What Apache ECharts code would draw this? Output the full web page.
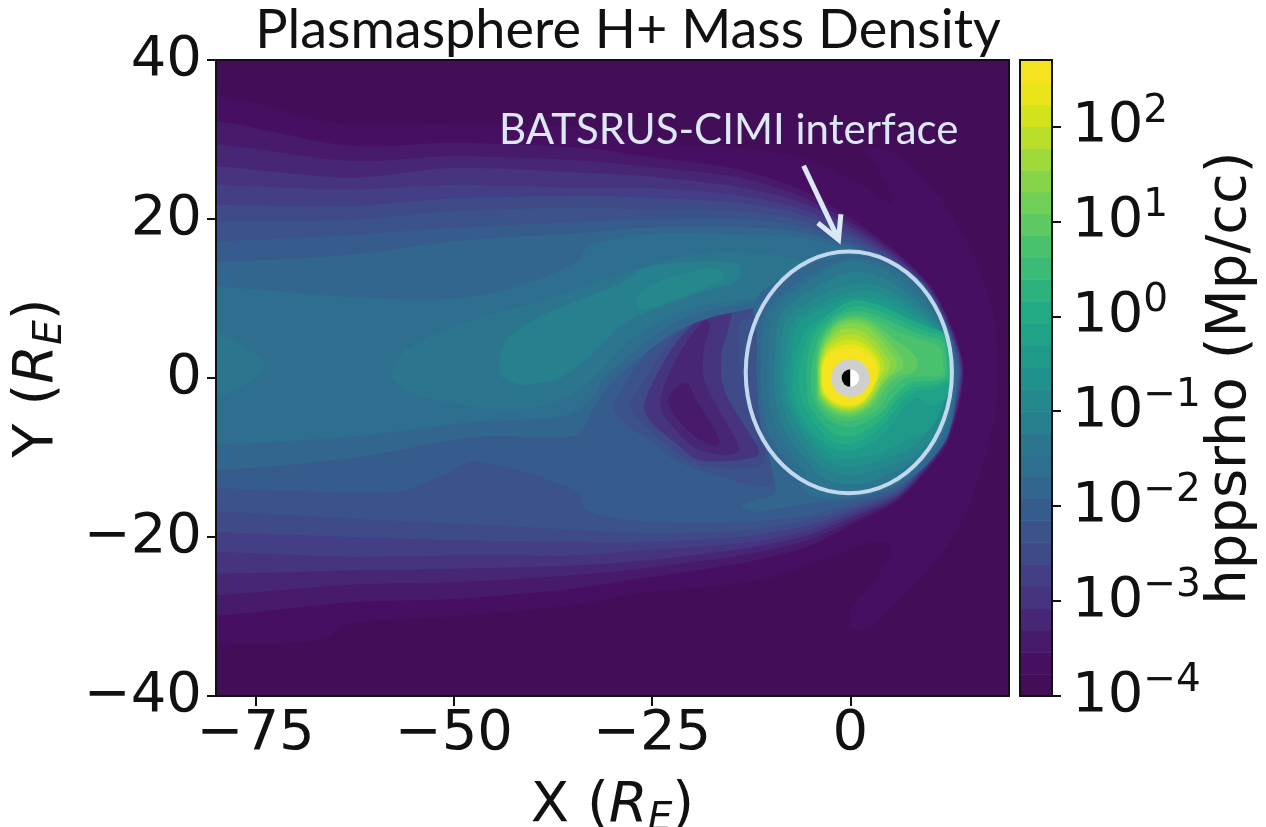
<!DOCTYPE html>
<html><head><meta charset="utf-8"><style>html,body{margin:0;padding:0;background:#fff}#c{width:1266px;height:827px}</style>
<script src="https://cdn.jsdelivr.net/npm/echarts@6/dist/echarts.min.js"></script></head><body><div id="c"></div>
<script>
const titleText='Plasmasphere H+ Mass Density';
const noteText='BATSRUS-CIMI interface';
const xTicks=[-75,-50,-25,0];
const yTicks=[-40,-20,0,20,40];
const cbTicks=[-4,-3,-2,-1,0,1,2];
// log10 density band edges of the colour bar
const cbLevels=[-4,-3.77,-3.54,-3.31,-3.08,-2.84,-2.61,-2.38,-2.15,-1.92,-1.69,-1.46,-1.23,-1,-0.77,-0.54,-0.31,-0.08,0.16,0.39,0.62,0.85,1.08,1.31,1.54,1.77,2,2.23,2.46,2.7];
const bandColors=['#420e57','#470f62','#481a6c','#482676','#463480','#433e85','#3f4a89','#3b528b','#365c8d','#32668e','#2e6e8e','#2b768e','#27808e','#24888d','#21918c','#1f998a','#1fa287','#23a983','#2db27d','#3bbb75','#4ac16d','#5ec962','#70cf57','#86d549','#9fda3a','#b8de29','#d2e21b','#e9e51a','#f6e31f'];
// filled contours, X,Y in Earth radii: outer magnetosphere and tail
const c0=[-95,50,35,50,35,-50,-95,-50];
const c1=[-90,35.6,-80,35.6,-67,32.5,-63,31.9,-50,31.9,-33,31.5,-24,29.5,-13.8,29,-5.3,27.5,1,24.5,5.2,22,5,23.4,3,27,1.8,28.7,4.8,28.7,7.3,27,11.5,22.4,15.7,15.2,18,8,18.7,0,17.8,-7,15.7,-14,13.6,-19,9.8,-24.2,6,-28,2.3,-31.5,0.1,-31.4,0.1,-29.2,3,-25.5,4.8,-22.5,4.8,-20.8,3,-20.6,-1.1,-22,-9.6,-25,-18,-26.3,-26.4,-27,-35,-28.6,-50,-30,-63,-30.9,-67,-33,-80,-33.6,-90,-33.6];
const c2=[-90,32.3,-80,32.3,-63,29.2,-50,29.6,-33,28.9,-26,27.9,-14,26.2,-5.4,23.3,3,18,9.8,12,13.1,5.7,14.3,0.6,12.4,-7.8,9.3,-12,6,-15.4,0.5,-18.3,-5.4,-21.2,-13.8,-23.3,-26.4,-25.2,-35,-26.5,-50,-27.8,-63,-28.2,-80,-29.9,-90,-29.9];
const c3=[-90,29.4,-80,29.4,-63,27.3,-50,27.9,-33,27.3,-26,26.6,-14,25.2,-5.4,22.5,3,17.6,9.7,11.9,13,5.6,14.2,0.6,12.3,-7.7,9.2,-11.9,5.9,-15.2,0.5,-17.9,-5.4,-20.4,-13.8,-22.3,-26.4,-24,-35,-24.8,-50,-25.7,-63,-26,-80,-27.3,-90,-27.3];
const c4=[-90,26.6,-80,26.6,-63,25.2,-50,26.4,-33,25.8,-26,25.4,-14,24,-5.4,21.8,3,17.2,9.6,11.8,12.9,5.6,14.1,0.6,12.2,-7.6,9.1,-11.8,5.9,-15,0.5,-17.4,-5.4,-19.8,-13.8,-21.5,-26.4,-23,-35,-23.6,-50,-24,-63,-24.2,-80,-24.6,-90,-24.6];
const c5=[-90,24.3,-80,24.3,-63,23.7,-50,24.3,-33,23.9,-26,23.9,-14,23,-5.4,21,3,16.8,9.5,11.7,12.8,5.5,14,0.6,12.1,-7.6,9,-11.7,5.8,-14.8,0.5,-17,-5.4,-19.2,-13.8,-20.8,-26.4,-21.7,-35,-22.3,-50,-22.3,-63,-22.5,-80,-21.9,-90,-21.9];
const c6=[-90,21.8,-80,21.8,-63,21.6,-50,22.6,-33,22.9,-26,22.7,-14,22,-5.4,20.3,3,16.4,9.4,11.6,12.7,5.5,13.9,0.6,12,-7.5,8.9,-11.6,5.8,-14.6,0.5,-16.6,-5.4,-18.6,-13.8,-20,-26.4,-20.6,-35,-20.6,-50,-20.4,-63,-20,-80,-19.4,-90,-19.4];
const c7=[-90,19.7,-80,19.7,-63,19.9,-50,21,-33,21.4,-26,21.2,-14,21,-5.4,19.6,3,16,9.3,11.5,12.6,5.5,13.8,0.6,11.9,-7.5,8.8,-11.5,5.7,-14.4,0.5,-16.2,-5.4,-17.9,-13.8,-19.2,-26.4,-19.5,-35,-19.1,-50,-18.3,-63,-17.7,-80,-16.8,-90,-16.8];
const c8=[-90,17.2,-80,17.2,-63,18,-50,18.9,-33,19.7,-26,19.9,-14,20,-5.4,18.9,3,15.6,9.2,11.4,12.5,5.4,13.6,0.6,11.8,-7.4,8.7,-11.4,5.6,-14.2,0.5,-15.8,-5.4,-17.3,-13.8,-18.1,-26.5,-18,-33.5,-16.5,-34.3,-14.3,-47,-10.5,-51.6,-12.3,-57,-14.3,-80,-13.9,-90,-13.9];
// low density cavity between tail and inner region
const cav7=[-29.8,-3.6,-28.2,-0.3,-24.8,4.3,-21.3,7.7,-17,9.6,-12.5,9.8,-11.6,8,-11.6,3,-11.4,-3,-10.8,-8,-9,-12.5,-11.2,-13.7,-16.3,-12.4,-22,-10.4,-24.8,-8.2,-28.5,-5.7];
const cav6=[-27.8,-3.6,-25.6,0.2,-23,4.3,-19.6,7.3,-15.8,9.4,-12.5,9.6,-12.5,8.1,-14.2,6.5,-14,2.2,-13,-2.4,-11.2,-6.6,-11,-10.7,-15,-11.4,-19.6,-10.7,-23,-8.6,-25.8,-6];
const cav5=[-26,-3.6,-24.8,-0.3,-21.7,4.8,-18.3,8,-15.1,8.9,-15.3,6.5,-16.3,2.7,-15.9,-1.5,-13.3,-6.1,-11.5,-9.5,-14,-10.3,-19.2,-10.3,-22,-8.2,-25,-5.7];
const cav4=[-24,-3.6,-23,0.2,-20.5,4.8,-18.3,7.3,-17.7,6.7,-18.5,3.5,-18.4,-0.3,-16.3,-4.5,-14,-9,-15.6,-9.7,-19.2,-9,-21.7,-7];
const cav3=[-23,-2.8,-21.7,-0.9,-20.5,-0.7,-19.4,-2.8,-17.4,-6.1,-16.5,-8,-17,-8.6,-19.5,-7.4,-21.7,-5.3];
// tail wings above the cavity
const w9=[-90,14.6,-80,14.6,-63,15.5,-50,17.2,-33,18.3,-26,18.9,-14,19,-5.4,18.2,3,15.2,4,12,-5,10,-12,8.8,-18,7.5,-22,5.8,-26,3,-30,-0.5,-32.5,-4,-34.5,-7.2,-47,-7.4,-63,-10.1,-80,-11.6,-90,-11.6];
const w10=[-90,11.5,-80,11.5,-63,10.2,-50,10,-42,11.5,-34.5,14.6,-33,16.7,-24,18.2,-14,18,-5.4,17.5,3,14.8,4,11,-6,9.8,-14,9.2,-19,8.2,-23,6.5,-27,3.5,-31,0,-33,-3,-36,-4.8,-47,-5.5,-63,-7.4,-80,-8.4,-90,-8.4];
const w11=[-58,0.4,-55.8,3.8,-47,7.5,-38,10,-29,13,-20,15.5,-12,15.7,-5,14.5,0,12,-6,10.3,-14,9.8,-19,9,-23,7.6,-28,4.5,-32.3,0,-36,-2.5,-40.7,-3.8,-47,-3.7,-54.6,-2.1,-57.6,-0.5];
const w11b=[-90,5.7,-80,5.7,-74,2,-75,0,-78,-1.7,-80,-2.4,-90,-2.4];
const w12=[-44.3,1.8,-43.2,5,-38.2,8.2,-29.8,11.5,-25.6,14,-14.2,14.4,-14.2,12.3,-19.2,10.7,-28.6,6.9,-32,3.5,-36.2,0.2,-40.8,-0.9,-42,-0.7,-44,0.2];
const w13=[-27,9.8,-25.6,11.5,-19.2,13.6,-16.3,13.6,-16.3,12.3,-21.3,10.2,-26.4,8.6];
// inner region around Earth
const s9=[-12,9.8,-8,13,-2,15.2,4,15,9,12,12.4,6,13.4,0.5,12.4,-7,9,-11.5,5,-14,0.5,-15.2,-5.4,-15.8,-11.7,-16.8,-13.8,-16.2,-12.2,-15.4,-9.6,-14.5,-10,-11,-11.3,-6,-11.8,0,-11.8,5];
const s10=[-10.5,8.5,-5,13,0,15,5,14,9,11,12.4,5.6,13.2,0.6,12.2,-6.5,9,-10.8,5.5,-13.5,0.5,-15,-5,-14.8,-7,-12,-10.3,-7,-11.2,-2,-11.2,3];
const s11=[-9.6,8.5,-5.5,12,0,14.8,4.5,13.5,8.5,10.5,12.2,5.6,13,0.6,12,-6.2,8.8,-10.5,5,-13,0.5,-14.4,-4,-13.5,-6.5,-11,-9.5,-6,-10.4,-2,-10.4,3];
const s12=[-8.8,8,-4.8,11.2,0,13.3,4,12.6,8,10,12.1,5.6,12.9,0.6,11.8,-5.8,8.6,-10,4.8,-12.2,0.3,-13.4,-3.5,-12.5,-5.8,-10,-8.6,-6,-9.5,-2,-9.5,3];
const s13=[-8,7.5,-4.2,10.2,0,11.8,3.6,11.6,7.6,9.5,11.9,5.5,12.8,0.6,11.6,-5.5,8.4,-9.5,4.4,-11.2,0.2,-12.3,-3,-11.5,-5.3,-9.3,-7.8,-5.5,-8.8,-2,-8.8,3];
const s14=[-7.2,7,-3.6,9.4,0,10.8,3.4,10.8,7.2,9,11.5,5.5,12.7,0.6,11.4,-4.2,8,-8.6,4,-10.3,0.1,-11.2,-2.7,-10.6,-4.9,-8.5,-7.2,-5,-8.2,-2,-8.2,3];
const s15=[-6.6,6.7,-3.1,9,0,10.1,3.2,10,6.8,8.5,11.3,5.5,12.6,0.6,11.6,-3.5,10,-6.5,7.6,-7.6,3.8,-9.4,0,-10.2,-2.5,-9.7,-4.6,-7.9,-6.8,-4.8,-7.8,-1.7,-7.6,2.7];
const s16=[-5.6,6,-2.7,8.2,0,9.5,3,9.4,6.4,8,11,5.2,12.6,0.6,12,-2.5,10,-3.5,8.5,-2.5,7,-3.5,5,-6.2,3,-8,0,-9.2,-2.4,-8.8,-4.3,-7.3,-6.4,-4.4,-7.3,-1.5,-7,2.5];
const s17=[-5,5.6,-2.2,8.4,0.5,9.8,3.5,9.2,6.2,8,9.4,6.6,12,5.4,12.6,2,12.5,-0.3,10,-1.6,8.5,-1.6,6.5,-3,4.6,-5.4,2.6,-7.2,0,-8.4,-2.2,-8,-3.9,-6.5,-5.7,-3.9,-6.5,-1,-6.2,2.5];
const s18=[-4.5,5.4,-2,7.9,0.5,9,3.2,8.6,6,7.4,9.2,6,11.9,5,12.4,2,12.4,0,10,-1,8,-1.2,6,-2.6,4.3,-4.8,2.3,-6.4,0,-7.4,-2,-7,-3.6,-5.6,-5.2,-3.4,-5.5,-1,-5.4,2.5];
const s19=[-3.8,5.3,-1.8,7.6,0.5,8.4,3,8,5.8,6.8,9,5.4,11.6,4.6,12.1,2,12,0.2,10,-0.4,7.6,-0.6,5.6,-2.2,3.9,-4.3,2,-5.5,0,-6.2,-1.8,-5.8,-3.2,-4.9,-4.5,-3,-5,-0.8,-4.7,2.5];
const s20=[-3.6,5.1,-1.6,7.3,0.5,7.9,2.8,7.5,4.6,6.6,6.4,5.6,9,4.8,11.1,4,11.7,2,11.6,0.4,9,0.2,7,0,5,-1.7,3.6,-3.8,1.8,-4.9,0,-5.4,-1.6,-5.2,-3,-4.4,-4.2,-2.8,-4.4,-0.6,-4.3,2.5];
const s21=[-3.4,5,-1.5,7.1,0.6,7.6,2.6,7.1,4.6,5.6,6.5,4.2,8,3,8.5,1.5,7.6,0.6,6,0.2,4.5,-1.2,3.2,-3.2,1.6,-4.4,0,-4.9,-1.5,-4.7,-2.9,-4,-4,-2.6,-4.2,-0.5,-4.1,2.5];
const s22=[-3.2,4.8,-1.4,6.9,0.6,7.3,2.4,6.8,4.2,5.2,5.8,3.5,6.6,2.2,6.6,1.2,5.2,0.3,4,-1,2.9,-2.9,1.5,-4.1,0,-4.6,-1.4,-4.4,-2.8,-3.7,-3.9,-2.4,-4.1,-0.4,-4,2.5];
const s23=[-3.1,4.6,-1.3,6.5,0.5,6.9,2.2,6.4,3.8,4.9,5.2,3,5.8,2,5.6,1,4.6,0,3.7,-1.2,2.7,-2.8,1.4,-3.9,0,-4.3,-1.3,-4.2,-2.7,-3.5,-3.8,-2.2,-4,-0.3,-3.9,2.2];
const s24=[-3,4.3,-1.2,6,0.5,6.2,2,5.6,3.4,4.3,4.6,2.6,5,1.6,4.6,0.6,3.9,-0.3,3.4,-1.3,2.5,-2.7,1.3,-3.7,0,-4.1,-1.2,-4,-2.6,-3.3,-3.7,-2,-3.9,-0.2,-3.8,2];
const s25=[-2.9,4,-1.1,5.3,0.4,5.5,1.8,5,3,3.9,4,2.5,4.3,1.4,4,0.6,3.5,-0.3,3.1,-1.3,2.3,-2.6,1.2,-3.5,0,-3.9,-1.1,-3.8,-2.5,-3.2,-3.6,-1.9,-3.8,-0.1,-3.7,2];
const s26=[-2.7,3.7,-1,4.7,0.4,4.8,1.7,4.3,2.8,3.4,3.6,2.2,3.8,1.2,3.6,0.3,3.2,-0.5,2.9,-1.4,2.1,-2.5,1.1,-3.4,0,-3.7,-1.1,-3.6,-2.4,-3,-3.5,-1.8,-3.7,0,-3.6,2];
const s27=[-2.6,3.4,-1,4.1,0.3,4.2,1.6,3.8,2.7,3,3.4,1.9,3.6,1,3.4,0.1,3,-0.7,2.7,-1.5,2,-2.5,1,-3.3,0,-3.6,-1,-3.5,-2.3,-2.9,-3.4,-1.7,-3.6,0,-3.5,1.8];
const s28=[-2.4,3.1,-1,3.6,0.3,3.7,1.6,3.3,2.6,2.5,3.2,1.5,3.4,0.6,3.2,-0.3,2.7,-1.2,2,-2.3,1,-3.1,0,-3.4,-1,-3.3,-2.2,-2.7,-3.3,-1.5,-3.5,0,-3.4,1.7];
const layers=[[0,c0],[1,c1],[2,c2],[3,c3],[4,c4],[5,c5],[6,c6],[7,c7],[8,c8],[7,cav7],[6,cav6],[4,cav5],[3,cav4],[2,cav3],[9,w9],[10,w10],[11,w11],[11,w11b],[12,w12],[13,w13],[9,s9],[10,s10],[11,s11],[12,s12],[13,s13],[14,s14],[15,s15],[16,s16],[17,s17],[18,s18],[19,s19],[20,s20],[21,s21],[22,s22],[23,s23],[24,s24],[25,s25],[26,s26],[27,s27],[28,s28]];
// annotation geometry, Earth radii
const interfaceEllipse=[-0.2,0.7,13,15.2];
const earthDisc=[0,0,2.4,1.1];
const arrowShaft=[[-5.9,26.7],[-1.5,17.4]];
const arrowHead=[[-4.1,19.5],[-1.5,17.4],[-1.2,20.6]];

const sup=v=>'{b|10}{e|'+String(v).replace('-','\u2212')+'}';
const font='DejaVu Sans', FS=56, ink='#111';
const richAxis={b:{fontFamily:font,fontSize:FS,color:ink},e:{fontFamily:font,fontSize:39,color:ink,padding:[0,0,30,0]}};
const nameRich={a:{fontFamily:font,fontSize:FS,color:ink},i:{fontFamily:font,fontSize:FS,fontStyle:'italic',color:ink},s:{fontFamily:font,fontSize:39,fontStyle:'italic',color:ink,padding:[26,0,0,0]}};
const lineOnly=(o)=>Object.assign({type:'value',z:10,axisLine:{show:true,onZero:false,lineStyle:{color:ink,width:2}},axisTick:{show:false},axisLabel:{show:false},splitLine:{show:false}},o);
const minusFmt=v=>String(v).replace('-','\u2212');
const option={
  backgroundColor:'#fff',animation:false,
  title:{text:titleText,left:623,textAlign:'center',top:-1,textStyle:{fontFamily:'Lato',fontWeight:'normal',fontSize:54,color:'#111'}},
  grid:[{left:216,top:60,width:793,height:636,outerBoundsMode:'none'},{left:1020,top:60,width:32,height:636,outerBoundsMode:'none'}],
  xAxis:[
    lineOnly({gridIndex:0,min:-80,max:20,position:'bottom',axisTick:{show:true,customValues:xTicks,length:10,lineStyle:{color:ink,width:2}},
      axisLabel:{show:true,customValues:xTicks,formatter:minusFmt,fontFamily:font,fontSize:FS,color:ink,margin:10},
      name:'{a|X (}{i|R}{s|E}{a|)}',nameLocation:'middle',nameGap:78,nameMoveOverlap:false,nameTextStyle:{rich:nameRich}}),
    lineOnly({gridIndex:0,min:-80,max:20,position:'top'}),
    lineOnly({gridIndex:1,min:0,max:1,position:'bottom'}),
    lineOnly({gridIndex:1,min:0,max:1,position:'top'})
  ],
  yAxis:[
    lineOnly({gridIndex:0,min:-40,max:40,interval:20,position:'left',axisTick:{show:true,customValues:yTicks,length:9,lineStyle:{color:ink,width:2}},
      axisLabel:{show:true,customValues:yTicks,formatter:minusFmt,fontFamily:font,fontSize:FS,color:ink,margin:14},
      name:'{a|Y (}{i|R}{s|E}{a|)}',nameLocation:'middle',nameRotate:90,nameGap:146,nameMoveOverlap:false,nameTextStyle:{rich:nameRich}}),
    lineOnly({gridIndex:0,min:-40,max:40,position:'right'}),
    lineOnly({gridIndex:1,min:-4,max:2.7,position:'left'}),
    lineOnly({gridIndex:1,min:-4,max:2.7,position:'right',axisTick:{show:true,customValues:cbTicks,length:9,lineStyle:{color:ink,width:2}},
      axisLabel:{show:true,customValues:cbTicks,formatter:sup,margin:20,rich:richAxis},
      name:'hppsrho (Mp/cc)',nameLocation:'middle',nameRotate:90,nameGap:150,nameMoveOverlap:false,nameTextStyle:{fontFamily:font,fontSize:FS,color:ink}})
  ],
  graphic:[{type:'text',z:50,left:499,top:109,style:{text:noteText,fontFamily:'Lato',fontSize:42,fill:'#dde8f5'}}],
  series:[
    {type:'custom',name:'field',xAxisIndex:0,yAxisIndex:0,clip:true,silent:true,z:2,data:layers.map((l,i)=>[i]),
     renderItem(p,api){const l=layers[api.value(0)],pts=[];
       for(let i=0;i<l[1].length;i+=2)pts.push(api.coord([l[1][i],l[1][i+1]]));
       return {type:'polygon',shape:{points:pts,smooth:l[0]===0?0:0.3},style:{fill:bandColors[l[0]]}};}},
    {type:'custom',name:'overlay',xAxisIndex:0,yAxisIndex:0,clip:true,silent:true,z:3,data:[[0]],
     renderItem(p,api){
       const e=api.coord([interfaceEllipse[0],interfaceEllipse[1]]),s=api.size([interfaceEllipse[2],interfaceEllipse[3]]);
       const c=api.coord([earthDisc[0],earthDisc[1]]),R=api.size([earthDisc[2],0])[0],r=api.size([earthDisc[3],0])[0];
       const arrowStyle={stroke:'#dbe8f5',lineWidth:5,fill:'none'};
       return {type:'group',children:[
         {type:'circle',shape:{cx:c[0],cy:c[1],r:R},style:{fill:'#cfcfcf'}},
         {type:'sector',shape:{cx:c[0],cy:c[1],r:r,r0:0,startAngle:Math.PI/2,endAngle:Math.PI*3/2},style:{fill:'#000'}},
         {type:'sector',shape:{cx:c[0],cy:c[1],r:r,r0:0,startAngle:-Math.PI/2,endAngle:Math.PI/2},style:{fill:'#fff'}},
         {type:'ellipse',shape:{cx:e[0],cy:e[1],rx:s[0],ry:s[1]},style:{stroke:'#c3d8ee',lineWidth:4,fill:'none'}},
         {type:'polyline',shape:{points:arrowShaft.map(q=>api.coord(q))},style:arrowStyle},
         {type:'polyline',shape:{points:arrowHead.map(q=>api.coord(q))},style:arrowStyle}
       ]};}},
    {type:'custom',name:'colorbar',xAxisIndex:2,yAxisIndex:3,silent:true,z:2,data:bandColors.map((c,i)=>[i]),
     renderItem(p,api){const i=api.value(0),a=api.coord([0,cbLevels[i]]),b=api.coord([1,cbLevels[i+1]]);
       return {type:'rect',shape:{x:a[0],y:b[1],width:b[0]-a[0],height:a[1]-b[1]+0.5},style:{fill:bandColors[i]}};}}
  ]
};
echarts.init(document.getElementById('c'),null,{renderer:'canvas'}).setOption(option);
</script></body></html>
